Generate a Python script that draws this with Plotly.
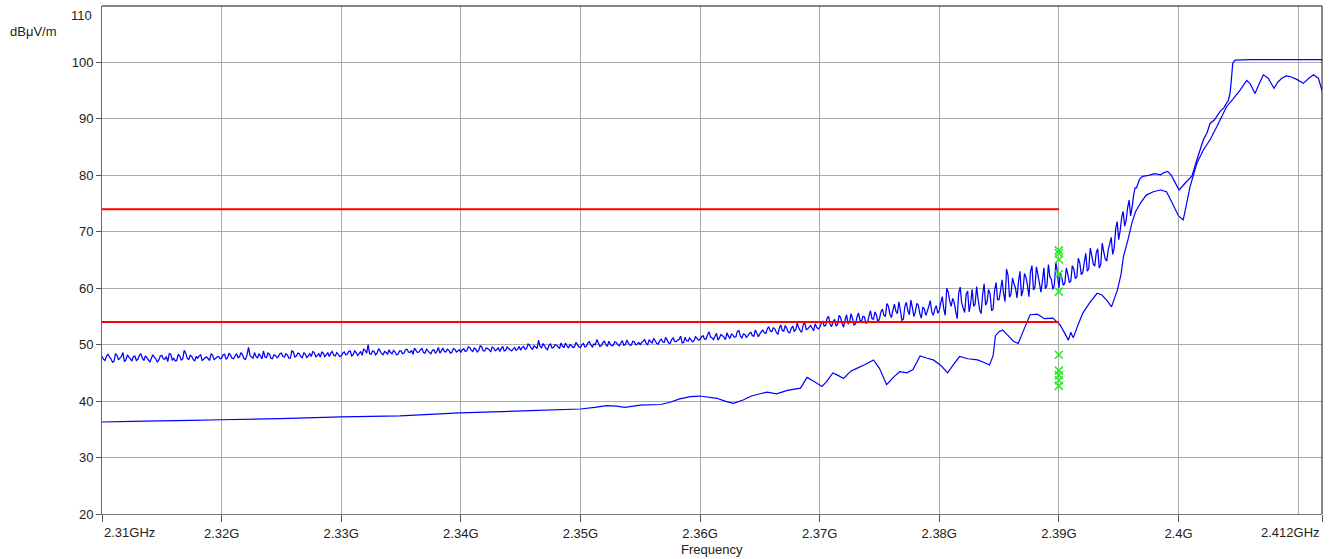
import numpy as np
import plotly.graph_objects as go

# ---------------- data ----------------
# Peak detector sweep (noisy), points on 2310.0 + 0.25k MHz
peak_start_mhz = 2310.0
peak_step_mhz = 0.25
peak_noisy_db = [
    # 2310
    47.9, 47.2, 48.3, 47.5, 47.0, 48.1, 47.6, 48.6, 47.3, 47.8, 47.1, 48.0, 47.4, 48.4, 47.2, 47.7, 46.9, 48.2, 47.5, 47.3,
    # 2315
    48.1, 47.4, 47.0, 48.3, 47.6, 47.2, 48.0, 47.5, 48.5, 47.3, 47.9, 47.1, 47.6, 48.2, 47.4, 47.8, 47.2, 48.1, 47.6, 47.9,
    # 2320
    47.6, 48.3, 47.7, 48.1, 47.5, 48.4, 47.9, 48.2, 47.4, 49.5, 47.8, 48.6, 47.6, 48.0, 48.9, 47.7, 48.3, 47.5, 48.1, 47.9,
    # 2325
    48.5, 47.8, 48.2, 47.6, 48.7, 48.0, 48.4, 47.7, 48.3, 48.0, 47.9, 48.6, 48.1, 47.8, 48.5, 48.2, 47.9, 48.8, 48.0, 48.3,
    # 2330
    48.0, 48.7, 48.3, 48.9, 48.2, 48.6, 48.4, 48.1, 49.0, 50.0, 48.3, 48.8, 48.5, 48.9, 48.2, 48.6, 49.1, 48.4, 48.7, 48.3,
    # 2335
    48.9, 48.5, 49.2, 48.6, 48.3, 49.0, 48.7, 49.3, 48.5, 48.9, 48.4, 49.1, 48.8, 48.5, 49.4, 48.7, 49.0, 48.6, 49.2, 48.9,
    # 2340
    48.6, 49.3, 48.9, 49.5, 48.8, 49.2, 49.0, 49.6, 48.9, 49.3, 48.7, 49.4, 49.1, 48.8, 49.7, 49.0, 49.3, 48.9, 49.5, 49.2,
    # 2345
    49.0, 49.7, 49.3, 49.9, 49.2, 49.6, 50.8, 49.4, 49.8, 49.1, 50.1, 49.5, 49.9, 49.3, 49.7, 50.3, 49.4, 49.8, 49.6, 50.0,
    # 2350
    49.5, 50.2, 49.7, 50.5, 49.6, 50.0, 50.3, 49.8, 50.6, 49.7, 50.1, 49.9, 50.4, 49.8, 50.7, 50.0, 50.3, 49.9, 50.5, 50.1,
    # 2355
    50.0, 50.6, 50.2, 50.9, 50.3, 50.7, 50.1, 51.0, 50.4, 50.8, 50.2, 51.2, 50.5, 50.9, 50.3, 51.3, 50.6, 50.9, 50.7, 51.1,
    # 2360
    50.9, 51.6, 51.0, 52.3, 51.2, 51.5, 50.8, 51.8, 51.3, 52.1, 51.1, 51.7, 51.4, 52.5, 51.2, 51.8, 51.6, 52.2, 51.5, 52.0,
    # 2365
    51.9, 52.6, 52.0, 53.2, 52.3, 52.8, 51.8, 53.5, 52.4, 52.9, 52.1, 53.3, 52.6, 53.0, 52.2, 54.0, 52.8, 53.4, 52.5, 53.1,
    # 2370
    53.0, 54.2, 53.4, 55.0, 53.2, 54.5, 53.6, 54.8, 53.1, 55.3, 54.0, 54.6, 53.7, 55.6, 54.2, 54.9, 53.9, 56.0, 54.5, 55.2,
    # 2375
    54.6, 56.3, 55.0, 56.8, 54.8, 57.2, 55.5, 56.1, 54.5, 57.5, 55.3, 56.6, 55.8, 57.0, 54.7, 56.4, 55.9, 57.8, 55.2, 56.9,
    # 2380
    56.0, 58.5, 55.2, 59.3, 56.8, 57.5, 54.6, 60.2, 56.5, 58.9, 55.8, 59.8, 57.2, 58.0, 55.5, 60.8, 57.6, 59.0, 56.3, 61.0,
    # 2385
    58.0, 61.5, 57.6, 62.3, 59.0, 60.8, 58.3, 63.0, 59.6, 61.9, 58.5, 64.0, 60.2, 62.4, 59.3, 63.6, 60.5, 62.0, 59.8, 64.6,
    # 2390
    60.0, 61.8, 60.9, 62.5, 61.3, 63.4, 62.0, 64.5, 62.8, 66.2, 63.5, 65.8, 63.9, 67.0, 64.2, 66.5, 64.8, 67.8, 66.0, 70.5,
    # 2395 .. 2397
    68.6, 72.5, 71.0, 74.3, 72.8, 76.5, 77.8, 79.3, 79.8,
]
# Peak detector sweep (noisy), points on 2310.125 + 0.25k MHz
peak_mid_start_mhz = 2310.125
peak_mid_db = [
    # 2310
    47.4, 48.0, 47.8, 46.9, 48.4, 47.3, 47.9, 47.0, 48.2, 47.5, 47.9, 47.2, 48.1, 47.6, 48.0, 47.3, 47.6, 47.8, 46.9, 48.0,
    # 2315
    47.5, 47.9, 48.4, 47.2, 47.1, 48.3, 47.3, 49.0, 47.6, 48.1, 47.4, 47.9, 48.0, 47.2, 47.7, 47.5, 48.4, 47.3, 47.8, 47.5,
    # 2320
    48.2, 47.4, 48.5, 47.6, 48.0, 47.7, 48.6, 47.5, 48.2, 48.1, 47.6, 47.9, 48.4, 47.5, 47.8, 48.5, 47.6, 48.2, 47.7, 48.4,
    # 2325
    47.9, 48.4, 47.6, 48.9, 47.8, 48.5, 47.9, 48.6, 47.7, 48.4, 48.8, 47.8, 48.4, 48.7, 47.9, 48.6, 48.5, 48.1, 48.6, 47.9,
    # 2330
    48.5, 48.2, 48.8, 48.0, 48.9, 48.1, 48.8, 49.2, 48.5, 48.4, 48.9, 48.2, 49.3, 48.4, 48.8, 48.3, 48.6, 49.0, 48.2, 48.9,
    # 2335
    48.4, 49.1, 48.7, 49.0, 49.4, 48.6, 49.1, 48.6, 49.2, 48.6, 49.0, 48.5, 49.5, 48.9, 48.8, 49.2, 48.5, 49.3, 48.7, 49.1,
    # 2340
    49.1, 48.8, 49.6, 49.0, 49.4, 48.7, 49.8, 48.9, 49.4, 49.1, 49.6, 48.9, 49.5, 49.3, 48.9, 49.6, 49.1, 49.2, 49.0, 49.7,
    # 2345
    49.5, 49.2, 50.1, 49.4, 49.8, 49.3, 49.7, 50.2, 49.3, 49.9, 49.4, 50.0, 49.6, 50.3, 49.5, 49.8, 50.0, 49.5, 50.4, 49.6,
    # 2350
    50.0, 49.6, 50.3, 49.9, 50.1, 50.9, 49.7, 50.4, 50.0, 50.6, 49.8, 50.5, 50.0, 50.3, 49.9, 50.8, 49.9, 50.6, 50.0, 50.4,
    # 2355
    50.4, 50.9, 50.0, 50.5, 51.1, 50.2, 50.7, 50.5, 51.3, 50.3, 50.9, 50.6, 50.8, 51.5, 50.4, 50.7, 51.2, 50.5, 51.4, 50.8,
    # 2360
    51.4, 51.0, 51.7, 51.4, 50.9, 52.0, 51.2, 51.6, 50.9, 51.5, 51.9, 51.3, 52.4, 51.5, 51.9, 51.3, 52.0, 51.6, 52.6, 51.4,
    # 2365
    52.3, 52.1, 52.8, 52.4, 53.0, 52.2, 52.9, 52.5, 53.4, 52.2, 52.9, 52.4, 53.8, 52.5, 53.5, 52.7, 53.1, 52.9, 53.7, 52.8,
    # 2370
    53.7, 53.3, 54.7, 53.6, 54.1, 53.3, 55.2, 53.8, 54.4, 53.7, 55.5, 53.5, 54.9, 54.3, 55.0, 53.8, 55.1, 54.6, 55.8, 54.0,
    # 2375
    55.8, 55.2, 57.3, 55.4, 56.1, 55.9, 57.6, 54.3, 56.8, 56.0, 57.9, 55.0, 57.3, 55.5, 56.6, 55.2, 56.8, 55.8, 56.3, 55.6,
    # 2380
    57.4, 56.4, 60.0, 57.7, 58.2, 55.9, 59.1, 57.4, 55.7, 59.5, 57.3, 56.8, 60.3, 56.2, 58.8, 57.0, 59.8, 56.0, 59.6, 58.0,
    # 2385
    59.6, 59.2, 63.4, 58.4, 61.8, 60.0, 61.2, 58.6, 62.6, 60.5, 62.9, 59.7, 63.8, 60.9, 61.3, 59.9, 64.2, 61.6, 60.6, 62.8,
    # 2390 .. 2396.875
    62.7, 60.5, 63.6, 61.0, 64.0, 61.7, 65.3, 62.4, 64.6, 63.0, 67.1, 64.3, 66.3, 63.6, 68.0, 65.2, 66.8, 69.0, 67.1, 71.8,
    70.2, 73.6, 72.0, 75.6, 74.4, 77.8, 78.6, 79.6,
]
# Peak detector, smooth upper part (MHz, dBuV/m)
peak_tail_mhz = [2397.5, 2398.0, 2398.5, 2398.8, 2399.1, 2399.4, 2399.7, 2400.05, 2400.55, 2401.13,
                 2401.5, 2402.08, 2402.4, 2402.64, 2403.0, 2403.47, 2403.8, 2404.17, 2404.31, 2404.42,
                 2404.54, 2404.73, 2406.0, 2412.0]
peak_tail_db = [80.0, 80.3, 80.1, 80.5, 80.7, 80.0, 78.8, 77.4, 78.6, 79.9,
                82.5, 86.3, 87.6, 89.2, 89.8, 91.3, 92.0, 93.3, 94.5, 96.9,
                99.85, 100.4, 100.5, 100.5]

# Average detector (MHz, dBuV/m)
avg_mhz = [2310.0, 2312.5, 2314.85, 2317.5, 2319.95, 2324.9, 2330.0, 2334.9, 2339.9, 2345.8,
           2350.0, 2351.2, 2352.2, 2353.0, 2353.7, 2355.0, 2356.7, 2357.5, 2358.3, 2359.2,
           2360.0, 2361.4, 2362.2, 2362.8, 2363.6, 2364.3, 2365.0, 2365.6, 2366.4, 2367.3,
           2368.4, 2368.95, 2369.5, 2370.2, 2370.6, 2371.1, 2371.5, 2372.0, 2372.6, 2373.1,
           2373.8, 2374.5, 2375.0, 2375.6, 2376.2, 2376.7, 2377.3, 2377.8, 2378.4, 2379.0,
           2379.5, 2380.1, 2380.7, 2381.2, 2381.7, 2382.4, 2383.2, 2383.8, 2384.2, 2384.5,
           2384.7, 2385.0, 2385.3, 2385.8, 2386.2, 2386.6, 2387.1, 2387.6, 2388.2, 2388.8,
           2389.5, 2390.1, 2390.5, 2390.8, 2391.0, 2391.2, 2391.6, 2392.0, 2392.6, 2393.2,
           2393.6, 2394.0, 2394.4, 2394.9, 2395.2, 2395.4, 2395.8, 2396.1, 2396.4, 2396.8,
           2397.3, 2397.9, 2398.5, 2399.0, 2399.5, 2400.0, 2400.4, 2400.97, 2401.53, 2402.08,
           2402.64, 2403.2, 2404.03, 2404.59, 2405.15, 2405.71, 2406.0, 2406.4, 2406.7, 2407.1,
           2407.5, 2407.99, 2408.3, 2408.64, 2409.0, 2409.33, 2409.89, 2410.44, 2410.9, 2411.28,
           2411.7, 2412.0]
avg_db = [36.3, 36.4, 36.5, 36.6, 36.7, 36.9, 37.2, 37.4, 37.9, 38.3,
          38.6, 38.9, 39.2, 39.1, 38.9, 39.3, 39.4, 39.8, 40.4, 40.8,
          40.9, 40.5, 39.9, 39.6, 40.2, 40.9, 41.3, 41.6, 41.3, 41.9,
          42.3, 44.2, 43.5, 42.6, 43.5, 45.0, 44.6, 44.0, 45.3, 45.8,
          46.5, 47.3, 45.8, 42.9, 44.3, 45.2, 45.0, 45.6, 48.0, 47.6,
          47.3, 46.4, 45.0, 46.5, 47.9, 47.5, 47.3, 46.8, 46.4, 48.0,
          51.6, 52.3, 52.6, 51.5, 50.6, 50.2, 52.8, 55.3, 55.4, 54.6,
          54.7, 53.5, 52.0, 50.8, 52.2, 51.2, 53.5, 55.6, 57.5, 59.1,
          58.8, 57.9, 56.7, 59.7, 62.5, 65.6, 68.8, 71.5, 73.5, 75.0,
          76.5, 77.1, 77.4, 77.1, 75.0, 72.8, 72.1, 78.0, 82.1, 84.5,
          86.3, 88.6, 92.2, 93.6, 95.1, 96.8, 96.2, 94.5, 96.0, 97.8,
          97.2, 95.4, 96.5, 97.2, 97.6, 97.5, 97.0, 96.3, 97.2, 97.8,
          97.2, 95.0]

# Limit lines
limit_ghz = [2.31, 2.39]
limit_peak_db = [74, 74]
limit_avg_db = [54, 54]

# Measurement markers at band edge
marker_ghz = [2.39] * 10
marker_db = [66.7, 66.2, 65.1, 62.5, 59.4, 48.2, 45.4, 44.6, 43.7, 42.7]

# Axis ticks
x_tick_vals = [2.31, 2.32, 2.33, 2.34, 2.35, 2.36, 2.37, 2.38, 2.39, 2.40, 2.412]
x_tick_text = ["", "2.32G", "2.33G", "2.34G", "2.35G", "2.36G", "2.37G", "2.38G", "2.39G", "2.4G", ""]
x_first_label = "2.31GHz"
x_last_label = "2.412GHz"
y_tick_vals = [20, 30, 40, 50, 60, 70, 80, 90, 100]
y_top_label = "110"

# ---------------- figure ----------------
sweep_a = peak_start_mhz + peak_step_mhz * np.arange(len(peak_noisy_db))
sweep_b = peak_mid_start_mhz + peak_step_mhz * np.arange(len(peak_mid_db))
sweep_x = np.concatenate([sweep_a, sweep_b])
sweep_y = np.concatenate([np.array(peak_noisy_db), np.array(peak_mid_db)])
order = np.argsort(sweep_x)
peak_x = np.concatenate([sweep_x[order], np.array(peak_tail_mhz)]) / 1000.0
peak_y = np.concatenate([sweep_y[order], np.array(peak_tail_db)])
avg_x = np.array(avg_mhz) / 1000.0

FONT = "Liberation Sans, Arial, sans-serif"
TXT = "#222222"
GRID = "#ababab"

fig = go.Figure()
fig.add_trace(go.Scatter(x=peak_x, y=peak_y, mode="lines",
                         line=dict(color="#0000ff", width=1.25, simplify=False), hoverinfo="skip"))
fig.add_trace(go.Scatter(x=avg_x, y=avg_db, mode="lines",
                         line=dict(color="#0000ff", width=1.2, simplify=False), hoverinfo="skip"))
fig.add_trace(go.Scatter(x=limit_ghz, y=limit_peak_db, mode="lines",
                         line=dict(color="#ff0000", width=2), hoverinfo="skip"))
fig.add_trace(go.Scatter(x=limit_ghz, y=limit_avg_db, mode="lines",
                         line=dict(color="#ff0000", width=2), hoverinfo="skip"))
fig.add_trace(go.Scatter(x=marker_ghz, y=marker_db, mode="markers",
                         marker=dict(symbol="x-thin", size=8, color="#22ee22",
                                     line=dict(color="#22ee22", width=1.5)),
                         hoverinfo="skip"))

fig.update_layout(
    width=1336, height=559,
    margin=dict(l=102, r=14, t=6, b=45),
    paper_bgcolor="white", plot_bgcolor="white",
    showlegend=False,
    font=dict(family=FONT, size=13, color=TXT),
    xaxis=dict(range=[2.31, 2.412], tickmode="array", tickvals=x_tick_vals, ticktext=x_tick_text,
               ticks="outside", ticklen=7, tickcolor="#555555", tickwidth=1,
               showgrid=True, gridcolor=GRID, gridwidth=1,
               showline=True, linecolor="#777777", linewidth=1, zeroline=False,
               minor=dict(tickmode="array", tickvals=[2.41], showgrid=True, gridcolor=GRID,
                          gridwidth=1, ticks=""),
               tickfont=dict(family=FONT, size=13, color=TXT)),
    yaxis=dict(range=[20, 110], tickmode="array", tickvals=y_tick_vals,
               ticks="outside", ticklen=5, tickcolor="#555555", tickwidth=1,
               showgrid=True, gridcolor=GRID, gridwidth=1,
               showline=True, linecolor="#666666", linewidth=1, zeroline=False,
               tickfont=dict(family=FONT, size=13, color=TXT)),
)

# frame: top and right edges
fig.add_shape(type="line", xref="paper", yref="paper", x0=0, x1=1, y0=1, y1=1,
              line=dict(color="#111111", width=1))
fig.add_shape(type="line", xref="paper", yref="paper", x0=1, x1=1, y0=0, y1=1,
              line=dict(color="#111111", width=1))

ann = dict(showarrow=False, font=dict(family=FONT, size=13, color=TXT))
fig.add_annotation(x=2.31, xref="x", y=0, yref="paper", text=x_first_label,
                   xanchor="left", yanchor="top", yshift=-9, **ann)
fig.add_annotation(x=2.412, xref="x", y=0, yref="paper", text=x_last_label,
                   xanchor="right", yanchor="top", yshift=-9, **ann)
fig.add_annotation(x=0, xref="paper", y=110, yref="y", text=y_top_label,
                   xanchor="right", yanchor="top", xshift=-8, yshift=0, **ann)
fig.add_annotation(x=0.5, xref="paper", y=0, yref="paper", text="Frequency",
                   xanchor="center", yanchor="top", yshift=-26, **ann)
fig.add_annotation(x=0, xref="paper", y=1, yref="paper", text="dBμV/m",
                   xanchor="right", yanchor="middle", xshift=-43, yshift=-25, **ann)

fig.write_html("out.html")
